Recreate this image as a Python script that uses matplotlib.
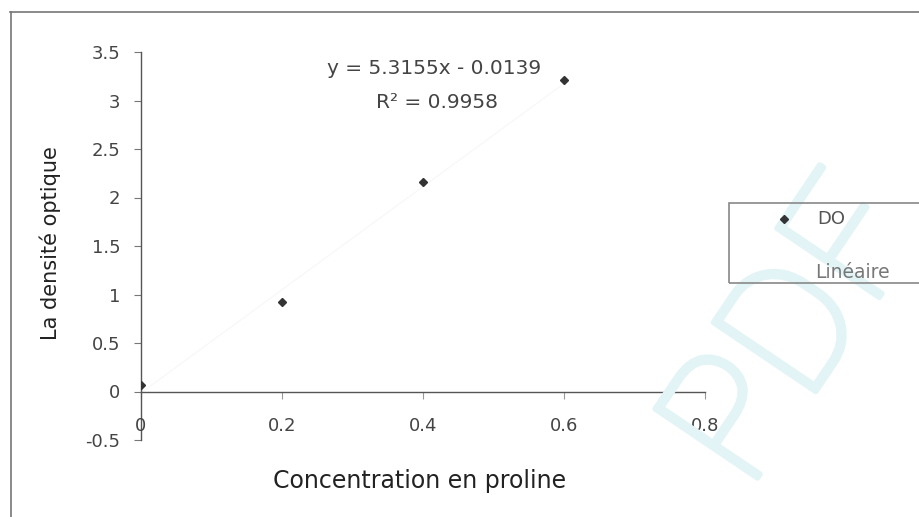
import matplotlib
matplotlib.use("Agg")
import matplotlib.pyplot as plt
import matplotlib.patheffects as pe
from matplotlib.lines import Line2D
import numpy as np

plt.rcParams['font.family'] = ['DejaVu Sans']

conc = [0.0, 0.2, 0.4, 0.6]
do_vals = [0.07, 0.92, 2.16, 3.21]
slope, intercept = 5.3155, -0.0139
eq_text = "y = 5.3155x - 0.0139"
r2_text = "R² = 0.9958"
xticks = [0, 0.2, 0.4, 0.6, 0.8]
yticks = [-0.5, 0, 0.5, 1, 1.5, 2, 2.5, 3, 3.5]
ytick_labels = ["-0.5", "0", "0.5", "1", "1.5", "2", "2.5", "3", "3.5"]

W, H = 919, 517
fig = plt.figure(figsize=(W / 100, H / 100), dpi=100)

# watermark
wm_col = '#e2f4f6'
fig.text(748 / W, 1 - 492 / H, "PDF", fontsize=125, rotation=56, ha='left',
         va='baseline', rotation_mode='anchor', color=wm_col,
         family=['Roboto', 'DejaVu Sans'], weight='light', zorder=0,
         path_effects=[pe.withStroke(linewidth=4, foreground=wm_col)])

# outer chart frame
fig.add_artist(Line2D([10 / W, 1.0], [1 - 12 / H, 1 - 12 / H], color='#777777', lw=1.2))
fig.add_artist(Line2D([11 / W, 11 / W], [0.0, 1 - 12 / H], color='#777777', lw=1.2))

ax = fig.add_axes([141 / W, 1 - 440 / H, 564 / W, 388 / H])
ax.set_facecolor('none')
ax.set_xlim(0, 0.8)
ax.set_ylim(-0.5, 3.5)

xs = np.array([0, 0.6])
ax.plot(xs, slope * xs + intercept, color='#f7f7f7', lw=0.8, zorder=1)
ax.plot(conc, do_vals, linestyle='none', marker='D', markersize=4.5,
        color='#333333', zorder=3)

for s in ['top', 'right']:
    ax.spines[s].set_visible(False)
ax.spines['bottom'].set_position(('data', 0))
ax.spines['left'].set_color('#555555')
ax.spines['bottom'].set_color('#555555')
ax.spines['left'].set_linewidth(1.0)
ax.spines['bottom'].set_linewidth(1.0)

ax.set_yticks(yticks)
ax.set_yticklabels(ytick_labels)
ax.set_xticks(xticks)
ax.set_xticklabels([])
ax.tick_params(axis='y', direction='out', length=5, color='#777777',
               labelsize=13, labelcolor='#444444', pad=10)
ax.tick_params(axis='x', direction='out', length=5, color='#999999')

for xv in xticks:
    ax.text(xv, -0.36, f"{xv:g}", ha='center', va='center', fontsize=13,
            color='#444444')

ax.text(0.415, 3.33, eq_text, ha='center', va='center', fontsize=14.5, color='#444444')
ax.text(0.42, 2.98, r2_text, ha='center', va='center', fontsize=14.5, color='#444444')

fig.text(50 / W, 1 - 243 / H, "La densité optique", rotation=90, ha='center',
         va='center', fontsize=15, color='#222222')
fig.text(420 / W, 1 - 481 / H, "Concentration en proline", ha='center',
         va='center', fontsize=17, color='#222222')

# legend box
fig.add_artist(plt.Rectangle((729 / W, 1 - 283 / H), (W - 729 + 5) / W, 80 / H,
                             transform=fig.transFigure, facecolor='none',
                             edgecolor='#888888', lw=1.2, clip_on=False))
fig.add_artist(Line2D([784 / W], [1 - 219 / H], marker='D', markersize=4.5,
                      color='#333333', linestyle='none'))
fig.text(817 / W, 1 - 219 / H, "DO", ha='left', va='center', fontsize=13, color='#555555')
fig.text(815 / W, 1 - 272 / H, "Linéaire", ha='left', va='center', fontsize=13.5, color='#777777')

fig.savefig("out.png", dpi=100)
